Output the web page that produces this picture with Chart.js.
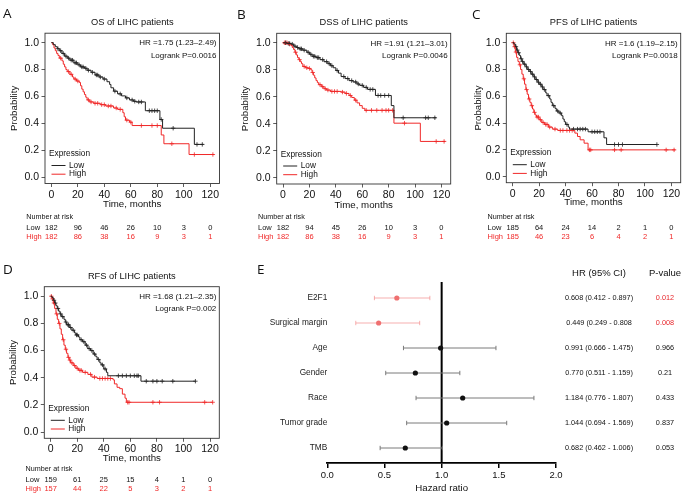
<!DOCTYPE html>
<html>
<head>
<meta charset="utf-8">
<script src="https://cdn.jsdelivr.net/npm/chart.js@4.4.1/dist/chart.umd.min.js"></script>
<style>
  html, body { margin: 0; padding: 0; background: #fff; }
  #fig { position: relative; width: 693px; height: 496px; overflow: hidden; }
  #fig canvas { position: absolute; }
  .tag { position: absolute; font-family: "Open Sans", "Liberation Sans", sans-serif; font-size: 13.5px; line-height: 1; color: #111; }
</style>
</head>
<body>
<div id="fig">
  <canvas id="kmA" width="230" height="245" style="left:0px;top:0px"></canvas>
  <canvas id="kmB" width="228" height="245" style="left:230px;top:0px"></canvas>
  <canvas id="kmC" width="235" height="245" style="left:458px;top:0px"></canvas>
  <canvas id="kmD" width="230" height="246" style="left:0px;top:250px"></canvas>
  <canvas id="forest" width="463" height="246" style="left:230px;top:250px"></canvas>
  <div class="tag" style="left:3px;top:7px">A</div>
  <div class="tag" style="left:237px;top:7.5px">B</div>
  <div class="tag" style="left:472px;top:7.5px">C</div>
  <div class="tag" style="left:3px;top:262.5px">D</div>
  <div class="tag" style="left:257px;top:262.5px">E</div>
</div>
<script>
// ---- KM axes ----
const kmXTicks = [0, 20, 40, 60, 80, 100, 120];
const kmYTicks = [0, 0.2, 0.4, 0.6, 0.8, 1.0];
const kmYTickLabels = ['0.0', '0.2', '0.4', '0.6', '0.8', '1.0'];

// survival steps: [months, probability from that month on]
const osLow = [[0,1],[1.5,0.985],[3,0.97],[4.5,0.955],[6,0.94],[8,0.92],[10,0.9],[12,0.885],[14,0.87],[17,0.85],[20,0.835],[22,0.82],[25,0.81],[27,0.795],[30,0.78],[33,0.76],[36,0.745],[39,0.73],[42,0.71],[44,0.69],[45,0.665],[47,0.64],[50,0.62],[53,0.605],[56,0.59],[59,0.575],[62,0.565],[64,0.56],[71,0.495],[82,0.43],[84,0.365],[108,0.245],[115,0.245]];
const osLowCens = [[5,0.955],[7,0.94],[9,0.92],[11,0.9],[13,0.885],[15,0.87],[16,0.87],[18,0.85],[19,0.85],[21,0.835],[23,0.82],[24,0.82],[26,0.81],[28,0.795],[31,0.78],[34,0.76],[35,0.76],[37,0.745],[40,0.73],[48,0.64],[52,0.62],[57,0.59],[61,0.575],[63,0.565],[66,0.56],[68,0.56],[74,0.495],[76,0.495],[78,0.495],[80,0.495],[83,0.43],[92,0.365],[110,0.245],[114,0.245]];
const osHigh = [[0,1],[1,0.985],[2,0.96],[3,0.94],[4,0.92],[5,0.905],[6,0.885],[8,0.865],[9,0.84],[10,0.82],[11,0.8],[12,0.785],[14,0.765],[16,0.745],[17,0.73],[19,0.715],[21,0.705],[22,0.68],[23,0.655],[24,0.635],[25,0.615],[26,0.595],[27,0.575],[29,0.56],[32,0.55],[37,0.54],[41,0.53],[47,0.515],[50,0.505],[54,0.48],[55,0.45],[56,0.425],[59,0.41],[61,0.385],[83,0.315],[85,0.25],[104,0.17],[123,0.17]];
const osHighCens = [[7,0.885],[13,0.785],[15,0.765],[18,0.73],[20,0.715],[28,0.575],[30,0.56],[33,0.55],[35,0.55],[38,0.54],[40,0.54],[43,0.53],[45,0.53],[49,0.515],[52,0.505],[57,0.425],[60,0.41],[68,0.385],[76,0.385],[80,0.385],[91,0.25],[108,0.17],[122,0.17]];
const osRiskLow = [182, 96, 46, 26, 10, 3, 0];
const osRiskHigh = [182, 86, 38, 16, 9, 3, 1];

const dssLow = [[0,1],[3,0.995],[6,0.99],[8,0.975],[10,0.965],[12,0.955],[15,0.945],[18,0.93],[20,0.915],[22,0.9],[25,0.89],[28,0.875],[31,0.86],[34,0.845],[36,0.83],[38,0.815],[40,0.795],[42,0.775],[44,0.75],[47,0.735],[50,0.72],[53,0.71],[56,0.695],[58,0.685],[61,0.67],[64,0.655],[70,0.61],[82,0.535],[84,0.445],[116,0.445]];
const dssLowCens = [[2,1],[4,0.995],[5,0.995],[7,0.99],[9,0.975],[11,0.965],[13,0.955],[14,0.955],[16,0.945],[19,0.93],[21,0.915],[23,0.9],[24,0.9],[26,0.89],[27,0.89],[30,0.875],[33,0.86],[35,0.845],[37,0.83],[41,0.795],[46,0.75],[49,0.735],[52,0.72],[55,0.71],[57,0.695],[60,0.685],[63,0.67],[66,0.655],[68,0.655],[72,0.61],[74,0.61],[77,0.61],[80,0.61],[91,0.445],[108,0.445],[110,0.445],[115,0.445]];
const dssHigh = [[0,1],[4,0.99],[6,0.98],[7,0.965],[8,0.95],[9,0.93],[10,0.91],[11,0.89],[12,0.875],[13,0.86],[14,0.845],[15,0.825],[17,0.815],[19,0.81],[21,0.8],[22,0.78],[23,0.76],[24,0.74],[25,0.72],[26,0.705],[27,0.69],[29,0.675],[31,0.66],[33,0.65],[36,0.64],[44,0.635],[47,0.625],[50,0.61],[52,0.595],[54,0.575],[56,0.555],[58,0.535],[60,0.515],[62,0.5],[84,0.405],[104,0.27],[123,0.27]];
const dssHighCens = [[1,1],[2,1],[3,1],[5,0.99],[9.5,0.93],[12.5,0.875],[16,0.825],[18,0.815],[20,0.81],[22.5,0.78],[28,0.69],[30,0.675],[32,0.66],[34,0.65],[37,0.64],[39,0.64],[41,0.64],[45,0.635],[48,0.625],[51,0.61],[55,0.575],[63,0.5],[67,0.5],[71,0.5],[75,0.5],[78,0.5],[80,0.5],[83,0.5],[92,0.405],[116,0.27],[122,0.27]];
const dssRiskLow = [182, 94, 45, 26, 10, 3, 0];
const dssRiskHigh = [182, 86, 38, 16, 9, 3, 1];

const pfsLow = [[0,1],[1,0.99],[2,0.97],[3,0.945],[4,0.925],[5,0.905],[6,0.88],[7,0.86],[8,0.84],[10,0.82],[11,0.8],[13,0.785],[14,0.765],[16,0.745],[17,0.725],[19,0.705],[20,0.69],[22,0.67],[23,0.65],[25,0.625],[26,0.605],[28,0.58],[29,0.555],[30,0.53],[32,0.51],[33,0.49],[35,0.475],[37,0.455],[38,0.43],[39,0.41],[40,0.39],[42,0.37],[43,0.355],[57,0.335],[69,0.29],[71,0.24],[109,0.24]];
const pfsLowCens = [[2.5,0.97],[3.5,0.945],[4.5,0.925],[6.5,0.88],[7.5,0.86],[9,0.84],[10.5,0.82],[12,0.8],[13.5,0.785],[15,0.765],[16.5,0.745],[18,0.725],[19.5,0.705],[21,0.69],[22.5,0.67],[24,0.65],[27,0.605],[31,0.53],[34,0.49],[36,0.475],[41,0.39],[46,0.355],[49,0.355],[51,0.355],[53,0.355],[55,0.355],[60,0.335],[62,0.335],[64,0.335],[66,0.335],[77,0.24],[80,0.24],[83,0.24],[109,0.24]];
const pfsHigh = [[0,1],[1,0.97],[2,0.93],[3,0.89],[4,0.86],[5,0.835],[6,0.8],[7,0.765],[8,0.73],[9,0.69],[10,0.65],[11,0.615],[12,0.58],[13,0.555],[14,0.53],[15,0.505],[16,0.48],[17,0.46],[18,0.445],[20,0.425],[22,0.405],[24,0.39],[27,0.37],[30,0.355],[34,0.345],[47,0.325],[49,0.3],[51,0.275],[54,0.25],[57,0.2],[123,0.2]];
const pfsHighCens = [[0.5,1],[1.5,0.97],[2.5,0.93],[5.5,0.835],[8.5,0.73],[10.5,0.65],[12.5,0.58],[14.5,0.53],[16.5,0.48],[18.5,0.445],[19.5,0.445],[21,0.425],[23,0.405],[25,0.39],[26,0.39],[28,0.37],[32,0.355],[36,0.345],[38,0.345],[41,0.345],[43,0.345],[45,0.345],[58,0.2],[59,0.2],[77,0.2],[82,0.2],[116,0.2],[122,0.2]];
const pfsRiskLow = [185, 64, 24, 14, 2, 1, 0];
const pfsRiskHigh = [185, 46, 23, 6, 4, 2, 1];

const rfsLow = [[0,1],[1,0.99],[2,0.97],[3,0.95],[4,0.93],[5,0.91],[6,0.89],[7,0.87],[8,0.85],[10,0.83],[11,0.81],[12,0.79],[14,0.77],[16,0.75],[18,0.73],[19,0.715],[21,0.7],[22,0.68],[24,0.665],[26,0.64],[28,0.615],[30,0.6],[32,0.575],[34,0.555],[35,0.535],[37,0.51],[38,0.495],[40,0.465],[42,0.44],[43,0.415],[68,0.375],[109,0.375]];
const rfsLowCens = [[2.5,0.97],[3.5,0.95],[5.5,0.91],[7.5,0.87],[9,0.85],[11.5,0.81],[13,0.79],[13.5,0.79],[15,0.77],[17,0.75],[19.5,0.715],[20,0.715],[23,0.68],[25,0.665],[27,0.64],[29,0.615],[31,0.6],[33,0.575],[36,0.535],[39,0.495],[41,0.465],[51,0.415],[54,0.415],[57,0.415],[60,0.415],[63,0.415],[65,0.415],[66,0.415],[72,0.375],[77,0.375],[80,0.375],[84,0.375],[92,0.375],[109,0.375]];
const rfsHigh = [[0,1],[1,0.98],[2,0.95],[3,0.91],[4,0.87],[5,0.83],[6,0.8],[7,0.76],[8,0.72],[9,0.68],[10,0.64],[11,0.61],[12,0.58],[13,0.55],[14,0.53],[15,0.51],[17,0.49],[19,0.47],[21,0.455],[24,0.44],[28,0.425],[31,0.405],[35,0.395],[47,0.385],[48,0.355],[50,0.33],[52,0.32],[54,0.28],[56,0.25],[57,0.22],[122,0.22]];
const rfsHighCens = [[0.5,1],[1.5,0.98],[2.5,0.95],[4.5,0.87],[6.5,0.8],[9.5,0.68],[11.5,0.61],[13.5,0.55],[14.5,0.53],[16,0.51],[18,0.49],[20,0.47],[22,0.455],[23,0.455],[26,0.44],[30,0.425],[33,0.405],[37,0.395],[39,0.395],[41,0.395],[43,0.395],[45,0.395],[58,0.22],[59,0.22],[77,0.22],[82,0.22],[116,0.22],[122,0.22]];
const rfsRiskLow = [159, 61, 25, 15, 4, 1, 0];
const rfsRiskHigh = [157, 44, 22, 5, 3, 2, 1];

// ---- forest plot ----
const forestRows = ['E2F1', 'Surgical margin', 'Age', 'Gender', 'Race', 'Tumor grade', 'TMB'];
const forestHR = [0.608, 0.449, 0.991, 0.770, 1.184, 1.044, 0.682];
const forestLow = [0.412, 0.249, 0.666, 0.511, 0.776, 0.694, 0.462];
const forestHigh = [0.897, 0.808, 1.475, 1.159, 1.807, 1.569, 1.006];
const forestCI = ['0.608 (0.412 - 0.897)', '0.449 (0.249 - 0.808', '0.991 (0.666 - 1.475)', '0.770 (0.511 - 1.159)', '1.184 (0.776 - 1.807)', '1.044 (0.694 - 1.569)', '0.682 (0.462 - 1.006)'];
const forestP = [0.012, 0.008, 0.966, 0.21, 0.433, 0.837, 0.053];
const forestXTicks = [0, 0.5, 1, 1.5, 2];
const forestXTickLabels = ['0.0', '0.5', '1.0', '1.5', '2.0'];

const FONT = '"Liberation Sans", Arial, sans-serif';
const LOW_COL = '#222222';
const HIGH_COL = '#f02828';
Chart.defaults.font.family = FONT;

// box, in-plot text, legend and number-at-risk table of a KM panel
const kmDecor = {
  id: 'kmDecor',
  afterDraw(chart, args, o) {
    const { ctx, chartArea: a, scales: { x } } = chart;
    ctx.save();
    ctx.strokeStyle = '#333';
    ctx.lineWidth = 0.9;
    ctx.strokeRect(a.left, a.top, a.right - a.left, a.bottom - a.top);

    ctx.fillStyle = '#111';
    ctx.textBaseline = 'middle';
    ctx.textAlign = 'right';
    ctx.font = '8px ' + FONT;
    ctx.fillText(o.hr, a.right - 3, a.top + 10);
    ctx.fillText(o.logrank, a.right - 3, a.top + 22.5);

    // legend
    ctx.textAlign = 'left';
    ctx.font = '8.3px ' + FONT;
    ctx.fillText('Expression', a.left + 4, a.bottom - 29.5);
    [['Low', LOW_COL, 18], ['High', HIGH_COL, 9.3]].forEach(([t, c, dy]) => {
      ctx.strokeStyle = c;
      ctx.lineWidth = 1;
      ctx.beginPath();
      ctx.moveTo(a.left + 6.5, a.bottom - dy);
      ctx.lineTo(a.left + 20.5, a.bottom - dy);
      ctx.stroke();
      ctx.fillStyle = '#111';
      ctx.fillText(t, a.left + 24, a.bottom - dy);
    });

    // number at risk
    const lx = a.left - 18.7;
    ctx.font = '7.2px ' + FONT;
    ctx.fillStyle = '#111';
    ctx.fillText('Number at risk', lx, o.riskY[0]);
    ctx.font = '7.5px ' + FONT;
    ctx.fillText('Low', lx, o.riskY[1]);
    ctx.fillStyle = HIGH_COL;
    ctx.fillText('High', lx, o.riskY[2]);
    ctx.textAlign = 'center';
    kmXTicks.forEach((t, i) => {
      const px = x.getPixelForValue(t);
      ctx.fillStyle = '#111';
      ctx.fillText(String(o.riskLow[i]), px, o.riskY[1]);
      ctx.fillStyle = HIGH_COL;
      ctx.fillText(String(o.riskHigh[i]), px, o.riskY[2]);
    });
    ctx.restore();
  }
};

function toXY(arr) {
  return arr.map(p => ({ x: p[0], y: p[1] }));
}

function drawKM(id, p) {
  const ca = { l: p.box[0] - p.left, t: p.box[1] - p.top, r: p.box[2] - p.left, b: p.box[3] - p.top };
  const xH = 28;
  const titleLH = 9.3 * 1.2;
  const titlePadTop = ca.t - 10.5 - titleLH / 2;
  const axisLH = 9.7 * 1.2;
  const tickGrid = { drawOnChartArea: false, drawTicks: true, tickLength: 3.5, color: '#333', lineWidth: 0.8 };
  new Chart(document.getElementById(id), {
    type: 'line',
    data: {
      datasets: [
        { data: toXY(p.low), stepped: 'before', borderColor: LOW_COL, borderWidth: 1, pointRadius: 0 },
        { data: toXY(p.high), stepped: 'before', borderColor: HIGH_COL, borderWidth: 1, pointRadius: 0 },
        { data: toXY(p.lowCens), showLine: false, pointStyle: 'cross', pointRadius: 2.2, pointBorderWidth: 0.8, borderColor: LOW_COL },
        { data: toXY(p.highCens), showLine: false, pointStyle: 'cross', pointRadius: 2.2, pointBorderWidth: 0.8, borderColor: HIGH_COL }
      ]
    },
    options: {
      responsive: false,
      animation: false,
      events: [],
      layout: { padding: { left: 0, top: 0, right: p.w - ca.r, bottom: p.h - ca.b - xH } },
      plugins: {
        legend: { display: false },
        tooltip: { enabled: false },
        title: {
          display: true, text: p.title, fullSize: false, color: '#111',
          font: { size: 9.3, weight: 'normal' },
          padding: { top: titlePadTop, bottom: ca.t - titlePadTop - titleLH }
        },
        kmDecor: {
          hr: p.hr, logrank: p.logrank, riskLow: p.riskLow, riskHigh: p.riskHigh,
          riskY: p.riskY.map(v => v - p.top)
        }
      },
      scales: {
        x: {
          type: 'linear', min: -4.8, max: 127,
          afterBuildTicks: s => { s.ticks = kmXTicks.map(v => ({ value: v })); },
          afterFit: s => { s.height = xH; },
          grid: tickGrid,
          border: { display: false },
          ticks: { autoSkip: false, maxRotation: 0, padding: 1.5, color: '#111', font: { size: 10.5 }, callback: v => String(v) },
          title: { display: true, text: 'Time, months', color: '#111', font: { size: 9.7 },
                   padding: { top: 0, bottom: xH - p.xtOff - axisLH / 2 } }
        },
        y: {
          type: 'linear', min: -0.045, max: 1.07,
          afterBuildTicks: s => { s.ticks = kmYTicks.map(v => ({ value: v })); },
          afterFit: s => { s.width = ca.l; },
          grid: tickGrid,
          border: { display: false },
          ticks: { padding: 2.5, color: '#111', font: { size: 10.5 }, callback: v => kmYTickLabels[kmYTicks.indexOf(v)] },
          title: { display: true, text: 'Probability', color: '#111', font: { size: 9.7 },
                   padding: { top: ca.l - p.ytOff - axisLH / 2, bottom: 0 } }
        }
      }
    },
    plugins: [kmDecor]
  });
}

drawKM('kmA', {
  left: 0, top: 0, w: 230, h: 245, box: [45, 33.2, 219.5, 183.5],
  title: 'OS of LIHC patients', hr: 'HR =1.75 (1.23\u20132.49)', logrank: 'Logrank P=0.0016',
  low: osLow, lowCens: osLowCens, high: osHigh, highCens: osHighCens,
  riskLow: osRiskLow, riskHigh: osRiskHigh, riskY: [217, 228.2, 237], xtOff: 21, ytOff: 31
});
drawKM('kmB', {
  left: 230, top: 0, w: 228, h: 245, box: [276.7, 33.3, 450.7, 184],
  title: 'DSS of LIHC patients', hr: 'HR =1.91 (1.21\u20133.01)', logrank: 'Logrank P=0.0046',
  low: dssLow, lowCens: dssLowCens, high: dssHigh, highCens: dssHighCens,
  riskLow: dssRiskLow, riskHigh: dssRiskHigh, riskY: [217, 228.2, 237], xtOff: 21, ytOff: 31.5
});
drawKM('kmC', {
  left: 458, top: 0, w: 235, h: 245, box: [506.3, 33.3, 680.7, 182.7],
  title: 'PFS of LIHC patients', hr: 'HR =1.6 (1.19\u20132.15)', logrank: 'Logrank P=0.0018',
  low: pfsLow, lowCens: pfsLowCens, high: pfsHigh, highCens: pfsHighCens,
  riskLow: pfsRiskLow, riskHigh: pfsRiskHigh, riskY: [217, 228.2, 237], xtOff: 19.5, ytOff: 28
});
drawKM('kmD', {
  left: 0, top: 250, w: 230, h: 246, box: [44.3, 286.7, 219.3, 438.3],
  title: 'RFS of LIHC patients', hr: 'HR =1.68 (1.21\u20132.35)', logrank: 'Logrank P=0.002',
  low: rfsLow, lowCens: rfsLowCens, high: rfsHigh, highCens: rfsHighCens,
  riskLow: rfsRiskLow, riskHigh: rfsRiskHigh, riskY: [469, 480, 488.5], xtOff: 19.7, ytOff: 31
});

// reference line, whiskers and the HR / P-value columns
const forestDecor = {
  id: 'forestDecor',
  beforeDatasetsDraw(chart) {
    const { ctx, chartArea: a, scales: { x, y } } = chart;
    ctx.save();
    const x1 = x.getPixelForValue(1);
    ctx.strokeStyle = '#000';
    ctx.lineWidth = 2;
    ctx.beginPath();
    ctx.moveTo(x1, a.top);
    ctx.lineTo(x1, a.bottom);
    ctx.stroke();
    forestLow.forEach((lo, i) => {
      const yy = y.getPixelForValue(i);
      const xl = x.getPixelForValue(lo);
      const xh = x.getPixelForValue(forestHigh[i]);
      ctx.strokeStyle = forestP[i] < 0.05 ? 'rgba(238,110,110,0.55)' : '#7a7a7a';
      ctx.lineWidth = 1;
      ctx.beginPath();
      ctx.moveTo(xl, yy); ctx.lineTo(xh, yy);
      ctx.moveTo(xl, yy - 2.2); ctx.lineTo(xl, yy + 2.2);
      ctx.moveTo(xh, yy - 2.2); ctx.lineTo(xh, yy + 2.2);
      ctx.stroke();
    });
    ctx.restore();
  },
  afterDraw(chart) {
    const { ctx, scales: { y } } = chart;
    ctx.save();
    ctx.textAlign = 'center';
    ctx.textBaseline = 'middle';
    ctx.fillStyle = '#111';
    ctx.font = '9.5px ' + FONT;
    ctx.fillText('HR (95% CI)', 369, 23);
    ctx.fillText('P-value', 435, 23);
    ctx.font = '7.3px ' + FONT;
    forestCI.forEach((t, i) => {
      const yy = y.getPixelForValue(i);
      ctx.fillStyle = '#111';
      ctx.fillText(t, 369, yy);
      ctx.fillStyle = forestP[i] < 0.05 ? '#e8262b' : '#111';
      ctx.fillText(String(forestP[i]), 435, yy);
    });
    ctx.restore();
  }
};

new Chart(document.getElementById('forest'), {
  type: 'scatter',
  data: {
    datasets: [{
      data: forestHR.map((v, i) => ({ x: v, y: i })),
      pointRadius: 2.6,
      pointBorderWidth: 0,
      pointBackgroundColor: forestP.map(pv => pv < 0.05 ? '#ef7070' : '#111')
    }]
  },
  options: {
    responsive: false,
    animation: false,
    events: [],
    layout: { padding: { left: 0, top: 32, right: 137, bottom: 0 } },
    plugins: { legend: { display: false }, tooltip: { enabled: false } },
    scales: {
      x: {
        type: 'linear', min: 0, max: 2,
        afterBuildTicks: s => { s.ticks = forestXTicks.map(v => ({ value: v })); },
        afterFit: s => { s.height = 33; },
        border: { display: true, color: '#000', width: 1.8 },
        grid: { drawOnChartArea: false, drawTicks: true, tickLength: 5, color: '#000', lineWidth: 1.5 },
        ticks: { autoSkip: false, maxRotation: 0, padding: 2, color: '#111', font: { size: 9.5 },
                 callback: v => forestXTickLabels[forestXTicks.indexOf(v)] },
        title: { display: true, text: 'Hazard ratio', color: '#111', font: { size: 9.7 }, padding: { top: 0, bottom: 2.2 } }
      },
      y: {
        type: 'linear', reverse: true, min: -0.64, max: 6.6,
        afterBuildTicks: s => { s.ticks = forestRows.map((r, i) => ({ value: i })); },
        afterFit: s => { s.width = 97.3; },
        border: { display: false },
        grid: { display: false, drawTicks: false, tickLength: 0 },
        ticks: { padding: 0, color: '#222', font: { size: 8.3 }, callback: v => forestRows[v] }
      }
    }
  },
  plugins: [forestDecor]
});
</script>
</body>
</html>
